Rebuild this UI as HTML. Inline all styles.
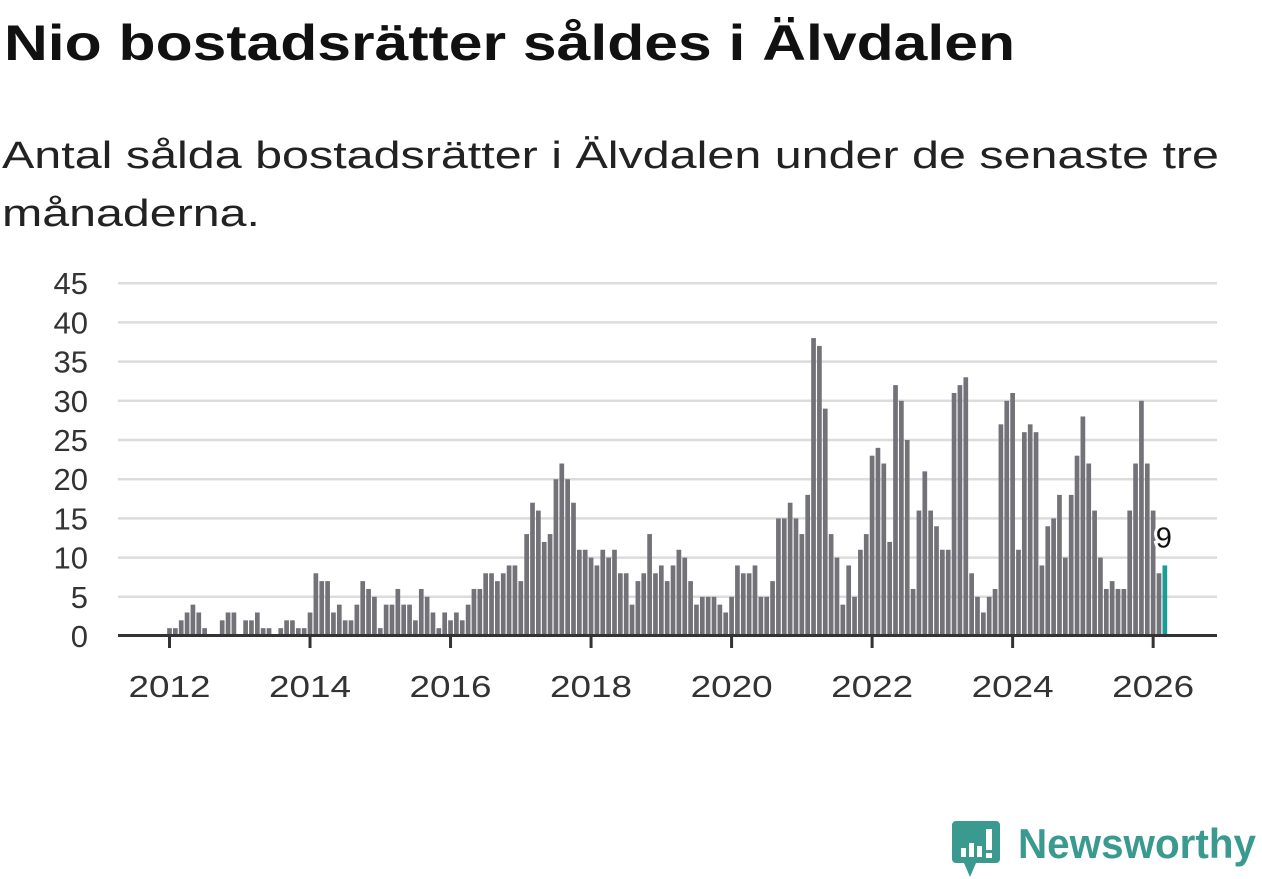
<!DOCTYPE html>
<html><head><meta charset="utf-8"><style>
html,body{margin:0;padding:0;background:#fff;}
svg{display:block;font-family:"Liberation Sans",sans-serif;}
</style></head><body>
<svg id="chart" width="1262" height="879" viewBox="0 0 1262 879" xmlns="http://www.w3.org/2000/svg">
<text x="4" y="60" font-size="50" font-weight="bold" fill="#111" textLength="1011" lengthAdjust="spacingAndGlyphs">Nio bostadsrätter såldes i Älvdalen</text>
<text x="2" y="168" font-size="38" fill="#222" textLength="1217" lengthAdjust="spacingAndGlyphs">Antal sålda bostadsrätter i Älvdalen under de senaste tre</text>
<text x="2" y="226" font-size="38" fill="#222" textLength="258" lengthAdjust="spacingAndGlyphs">månaderna.</text>
<g id="grid"></g>
<g id="bars"></g>
<g id="axes"></g>
<g>
<path d="M956 821 h40 a4 4 0 0 1 4 4 v34 a4 4 0 0 1 -4 4 h-20 l-6 14 l-6 -14 h-8 a4 4 0 0 1 -4 -4 v-34 a4 4 0 0 1 4 -4z" fill="#3a9a8f"/>
<rect x="961" y="848" width="5" height="9" fill="#fff"/>
<rect x="969" y="843" width="5" height="14" fill="#fff"/>
<rect x="977" y="846" width="5" height="11" fill="#fff"/>
<rect x="986" y="829" width="6" height="21" fill="#fff"/>
<rect x="986" y="853" width="6" height="5" fill="#fff"/>
<text x="1018" y="858" font-size="42" font-weight="bold" fill="#3a9a8f" textLength="238" lengthAdjust="spacingAndGlyphs">Newsworthy</text>
</g>
</svg>
<script>
const values = [1,1,2,3,4,3,1,0,0,2,3,3,0,2,2,3,1,1,0,1,2,2,1,1,3,8,7,7,3,4,2,2,4,7,6,5,1,4,4,6,4,4,2,6,5,3,1,3,2,3,2,4,6,6,8,8,
7,8,9,9,7,13,17,16,12,13,20,22,20,17,11,11,10,9,11,10,11,8,8,4,7,8,13,8,9,7,9,11,10,7,4,5,5,5,4,3,5,9,8,8,9,5,5,
7,15,15,17,15,13,18,38,37,29,13,10,4,9,5,11,13,23,24,22,12,32,30,25,6,16,21,16,14,11,11,31,32,33,8,5,
3,5,6,27,30,31,11,26,27,26,9,14,15,18,10,18,23,28,22,16,10,6,7,6,6,16,22,30,22,16,8,9];
const startYear = 2012;
const yTicks = [0,5,10,15,20,25,30,35,40,45];
const xTickYears = [2012,2014,2016,2018,2020,2022,2024,2026];

const NS='http://www.w3.org/2000/svg';
const x0=169.5, step=5.855, y0=636, yUnit=7.84;
function xScale(i){return x0+i*step;}
function yScale(v){return y0-v*yUnit;}
function mk(tag,attrs,parent){const e=document.createElementNS(NS,tag);for(const k in attrs)e.setAttribute(k,attrs[k]);parent.appendChild(e);return e;}
const grid=document.getElementById('grid'), bars=document.getElementById('bars'), axes=document.getElementById('axes');
yTicks.forEach(t=>{
  if(t>0){const l=mk('line',{x1:118,x2:1217,y1:yScale(t),y2:yScale(t),stroke:'#dcdcdc','stroke-width':2.5},grid);
  
  }
  const tx=mk('text',{x:88,y:yScale(t)+11,'font-size':31,fill:'#333','text-anchor':'end'},axes);
  
  
  tx.textContent=t;
});
values.forEach((v,i)=>{
  const last=i===values.length-1;
  const r=mk('rect',{x:xScale(i)-2.35,y:yScale(v),width:4.7,height:v*yUnit,fill:last?'#1a9e94':'#737278'},bars);
  
  
});
const li=values.length-1;
const lab=mk('text',{x:xScale(li)-1,y:yScale(values[li])-18,'font-size':29,fill:'#111','text-anchor':'middle',stroke:'#fff','stroke-width':6,'paint-order':'stroke'},bars);


lab.textContent=values[li];
const ax=mk('line',{x1:118,x2:1217,y1:635.5,y2:635.5,stroke:'#333','stroke-width':3},axes);


xTickYears.forEach(yr=>{
  const xi=xScale((yr-startYear)*12);
  const tk=mk('line',{x1:xi,x2:xi,y1:636,y2:648,stroke:'#333','stroke-width':3},axes);
  
  
  const tx=mk('text',{x:xi-41,y:697,'font-size':31,fill:'#333',textLength:82,lengthAdjust:'spacingAndGlyphs'},axes);
  
  
  tx.textContent=yr;
});
</script>
</body></html>
